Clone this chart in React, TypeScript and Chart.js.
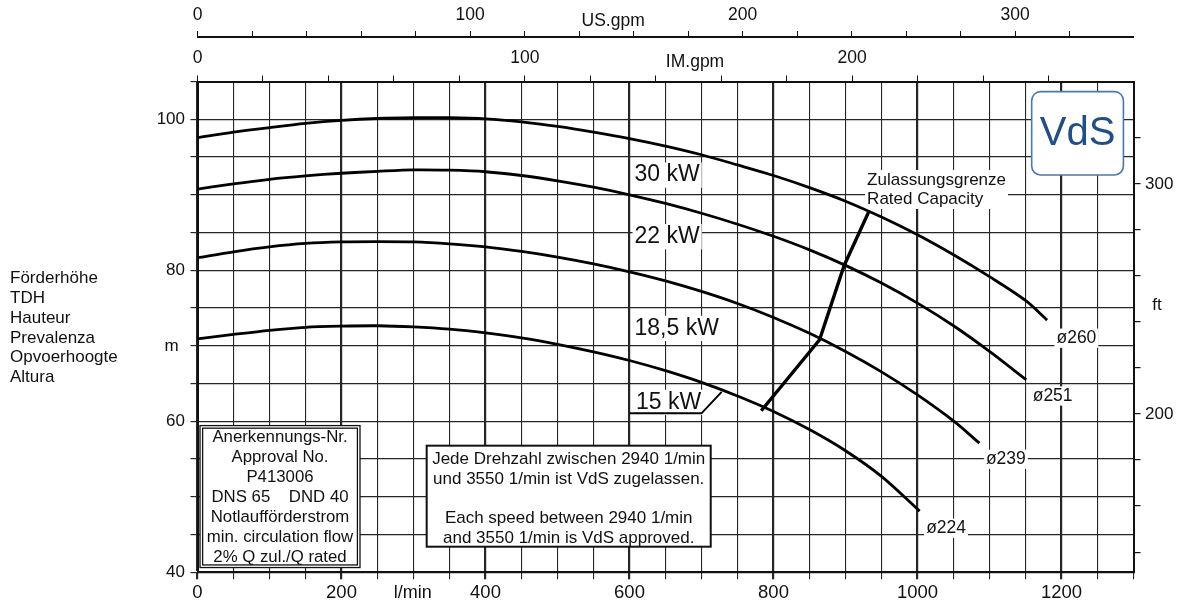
import React, { useEffect, useRef } from 'react';
import { Chart, registerables } from 'chart.js';

Chart.register(...registerables);

// ---- pump curves: flow in l/min, head in m ----
const q260 = [0, 50, 100, 150, 200, 250, 300, 350, 400, 450, 500, 550, 600, 650, 700, 750, 800, 850, 900, 950, 1000, 1050, 1100, 1150, 1180];
const h260 = [97.55, 98.3, 98.9, 99.45, 99.85, 100.1, 100.2, 100.2, 100.05, 99.65, 99.05, 98.3, 97.45, 96.45, 95.3, 93.95, 92.55, 90.95, 89.15, 87.05, 84.7, 82.05, 79.15, 76.0, 73.4];

const q251 = [0, 50, 100, 150, 200, 250, 300, 350, 400, 450, 500, 550, 600, 650, 700, 750, 800, 850, 900, 950, 1000, 1050, 1100, 1151];
const h251 = [90.75, 91.45, 92.05, 92.5, 92.85, 93.1, 93.3, 93.25, 93.05, 92.55, 91.85, 91.0, 90.0, 88.85, 87.55, 86.1, 84.5, 82.7, 80.65, 78.3, 75.65, 72.65, 69.25, 65.5];

const q239 = [0, 50, 100, 150, 200, 250, 300, 350, 400, 450, 500, 550, 600, 650, 700, 750, 800, 850, 900, 950, 1000, 1050, 1086];
const h239 = [81.65, 82.45, 83.1, 83.55, 83.75, 83.8, 83.75, 83.5, 83.1, 82.5, 81.75, 80.85, 79.8, 78.6, 77.2, 75.6, 73.75, 71.65, 69.25, 66.55, 63.5, 60.05, 57.1];

const q224 = [0, 50, 100, 150, 200, 250, 300, 350, 400, 450, 500, 550, 600, 650, 700, 750, 800, 850, 900, 950, 1003];
const h224 = [70.9, 71.5, 72.05, 72.45, 72.6, 72.65, 72.5, 72.2, 71.7, 71.05, 70.2, 69.2, 68.05, 66.7, 65.15, 63.35, 61.3, 58.9, 56.1, 52.7, 48.1];

// rated capacity limit line
const ratedQ = [933, 898, 864, 783];
const ratedH = [87.9, 80.6, 70.8, 61.4];

// leader under the "15 kW" label
const leaderQ = [600, 700, 728];
const leaderH = [61.05, 61.05, 63.9];

// tick labels
const flowTicks = [0, 200, 400, 600, 800, 1000, 1200];
const headTicks = [40, 60, 80, 100];
const ftTicks = [200, 300];
const usTicks = [0, 100, 200, 300];
const imTicks = [0, 100, 200];

// curve annotations
const powerLabels = ['30 kW', '22 kW', '18,5 kW', '15 kW'];
const powerQ = [607, 607, 607, 609];
const powerH = [92.6, 84.45, 72.3, 62.5];

const diaLabels = ['ø260', 'ø251', 'ø239', 'ø224'];
const diaQ = [1193, 1160, 1095, 1012];
const diaH = [71.0, 63.35, 54.97, 45.83];

const ratedText = ['Zulassungsgrenze', 'Rated Capacity'];
const approvalText = ['Anerkennungs-Nr.', 'Approval No.', 'P413006', 'DNS 65    DND 40', 'Notlaufförderstrom', 'min. circulation flow', '2% Q zul./Q rated'];
const speedText = ['Jede Drehzahl zwischen 2940 1/min', 'und 3550 1/min ist VdS zugelassen.', '', 'Each speed between 2940 1/min', 'and 3550 1/min is VdS approved.'];
const headTitle = ['Förderhöhe', 'TDH', 'Hauteur', 'Prevalenza', 'Opvoerhoogte', 'Altura'];

const L_PER_USGPM = 3.78541;
const L_PER_IMGPM = 4.54609;
const M_PER_FT = 0.3048;

const Q_MAX = 1300;
const H_MIN = 40;
const H_MAX = 105;

const FONT = '"Liberation Sans", Arial, Helvetica, sans-serif';
const INK = '#111111';
const GRID = '#262626';
const VDS_BLUE = '#1f4f86';

const pts = (qs: number[], hs: number[]) => qs.map((q, i) => ({ x: q, y: hs[i] }));

const onStep = (v: number, step: number) => Math.abs(v / step - Math.round(v / step)) < 1e-6;

function textWithBg(ctx: CanvasRenderingContext2D, text: string, left: number, cy: number, size: number) {
  ctx.font = `${size}px ${FONT}`;
  const w = ctx.measureText(text).width;
  ctx.fillStyle = '#ffffff';
  ctx.fillRect(left - 2, cy - size * 0.55, w + 4, size * 1.1);
  ctx.fillStyle = INK;
  ctx.textAlign = 'left';
  ctx.textBaseline = 'middle';
  ctx.fillText(text, left, cy);
}

function roundRect(ctx: CanvasRenderingContext2D, x: number, y: number, w: number, h: number, r: number) {
  ctx.beginPath();
  ctx.moveTo(x + r, y);
  ctx.lineTo(x + w - r, y);
  ctx.arcTo(x + w, y, x + w, y + r, r);
  ctx.lineTo(x + w, y + h - r);
  ctx.arcTo(x + w, y + h, x + w - r, y + h, r);
  ctx.lineTo(x + r, y + h);
  ctx.arcTo(x, y + h, x, y + h - r, r);
  ctx.lineTo(x, y + r);
  ctx.arcTo(x, y, x + r, y, r);
  ctx.closePath();
}

const overlay = {
  id: 'pumpOverlay',
  beforeDatasetsDraw(chart: any) {
    const { ctx } = chart;
    const xs = chart.scales.x;
    const ys = chart.scales.y;
    const px = (q: number) => xs.getPixelForValue(q);
    const py = (h: number) => ys.getPixelForValue(h);
    ctx.save();

    // power labels
    powerLabels.forEach((t, i) => textWithBg(ctx, t, px(powerQ[i]), py(powerH[i]), 23));

    // rated capacity caption
    ctx.font = `17px ${FONT}`;
    const rw = Math.max(...ratedText.map((t) => ctx.measureText(t).width));
    const rl = px(930);
    const r0 = py(91.96);
    const r1 = py(89.44);
    ctx.fillStyle = '#ffffff';
    ctx.fillRect(rl - 2, r0 - 10, rw + 4, r1 - r0 + 20);
    ctx.fillStyle = INK;
    ctx.textAlign = 'left';
    ctx.textBaseline = 'middle';
    ctx.fillText(ratedText[0], rl, r0);
    ctx.fillText(ratedText[1], rl, r1);

    // impeller diameters
    diaLabels.forEach((t, i) => textWithBg(ctx, t, px(diaQ[i]), py(diaH[i]), 17.5));

    // approval box (double frame)
    {
      const l = px(3.5), r = px(225.7), t = py(59.43), b = py(40.63);
      ctx.fillStyle = '#ffffff';
      ctx.fillRect(l, t, r - l, b - t);
      ctx.strokeStyle = INK;
      ctx.lineWidth = 1.3;
      ctx.strokeRect(l, t, r - l, b - t);
      ctx.strokeRect(l + 2.6, t + 2.6, r - l - 5.2, b - t - 5.2);
      ctx.fillStyle = INK;
      ctx.font = `16.8px ${FONT}`;
      ctx.textAlign = 'center';
      ctx.textBaseline = 'middle';
      approvalText.forEach((line, i) => ctx.fillText(line, (l + r) / 2, t + 11.5 + i * 20));
    }

    // speed range box
    {
      const l = px(318.3), r = px(712.8), t = py(56.77), b = py(43.39);
      ctx.fillStyle = '#ffffff';
      ctx.fillRect(l, t, r - l, b - t);
      ctx.strokeStyle = INK;
      ctx.lineWidth = 2;
      ctx.strokeRect(l, t, r - l, b - t);
      ctx.fillStyle = INK;
      ctx.font = `17px ${FONT}`;
      ctx.textAlign = 'center';
      ctx.textBaseline = 'middle';
      speedText.forEach((line, i) => ctx.fillText(line, (l + r) / 2, t + 14 + i * 19.6));
    }

    // VdS mark
    {
      const l = px(1158.6), r = px(1286), t = py(103.66), b = py(92.62);
      roundRect(ctx, l, t, r - l, b - t, 9);
      ctx.fillStyle = '#ffffff';
      ctx.fill();
      ctx.strokeStyle = '#4a78a8';
      ctx.lineWidth = 1.6;
      ctx.stroke();
      ctx.fillStyle = VDS_BLUE;
      ctx.font = `40px ${FONT}`;
      ctx.textAlign = 'center';
      ctx.textBaseline = 'middle';
      ctx.fillText('VdS', (l + r) / 2, (t + b) / 2 + 1);
    }
    ctx.restore();
  },
  afterDraw(chart: any) {
    const { ctx, chartArea } = chart;
    const ys = chart.scales.y;
    const us = chart.scales.xUS;
    const im = chart.scales.xIM;
    const xs = chart.scales.x;
    const ft = chart.scales.yFt;
    ctx.save();
    ctx.fillStyle = INK;

    ctx.font = `17.5px ${FONT}`;
    ctx.textAlign = 'center';
    ctx.textBaseline = 'alphabetic';
    ctx.fillText('US.gpm', us.getPixelForValue(152.5), us.bottom - 11.5);
    ctx.fillText('IM.gpm', im.getPixelForValue(152), im.bottom - 15);

    ctx.font = `18px ${FONT}`;
    ctx.fillText('l/min', xs.getPixelForValue(299), chartArea.bottom + 25.5);

    ctx.font = `17px ${FONT}`;
    ctx.textBaseline = 'middle';
    ctx.fillText('m', chartArea.left - 26, ys.getPixelForValue(69.9));
    ctx.fillText('ft', chartArea.right + 23.5, ft.getPixelForValue(247.4));

    ctx.textAlign = 'left';
    const y0 = ys.getPixelForValue(78.9);
    headTitle.forEach((line, i) => ctx.fillText(line, 10, y0 + i * 19.75));
    ctx.restore();
  },
};

export default function App() {
  const ref = useRef<HTMLCanvasElement>(null);

  useEffect(() => {
    const canvas = ref.current;
    if (!canvas) return;

    const curve = (qs: number[], hs: number[], width: number, tension: number) => ({
      data: pts(qs, hs),
      borderColor: '#000000',
      borderWidth: width,
      pointRadius: 0,
      tension,
      fill: false,
      xAxisID: 'x',
      yAxisID: 'y',
    });

    const gridWidth = (c: any) => (c.tick && onStep(c.tick.value, 200) ? 2.2 : 1.1);

    const chart = new Chart(canvas, {
      type: 'line',
      data: {
        datasets: [
          curve(q260, h260, 2.8, 0.3),
          curve(q251, h251, 2.8, 0.3),
          curve(q239, h239, 2.8, 0.3),
          curve(q224, h224, 2.8, 0.3),
          curve(ratedQ, ratedH, 3.4, 0),
          curve(leaderQ, leaderH, 2, 0),
        ] as any,
      },
      options: {
        responsive: false,
        animation: false,
        events: [],
        layout: { padding: 0 },
        plugins: { legend: { display: false }, tooltip: { enabled: false } },
        scales: {
          x: {
            type: 'linear',
            position: 'bottom',
            min: 0,
            max: Q_MAX,
            afterFit: (s: any) => { s.height = 37.7; },
            ticks: {
              stepSize: 50,
              autoSkip: false,
              maxRotation: 0,
              padding: 3,
              color: INK,
              font: { family: FONT, size: 18.5 },
              callback: (v: any) => (flowTicks.includes(Number(v)) ? String(v) : ''),
            },
            grid: { color: GRID, lineWidth: gridWidth, tickLength: 7 },
            border: { display: true, color: INK, width: 2 },
          },
          xIM: {
            type: 'linear',
            position: 'top',
            weight: 1,
            min: 0,
            max: Q_MAX / L_PER_IMGPM,
            afterFit: (s: any) => { s.height = 44.5; },
            afterBuildTicks: (s: any) => { s.ticks = s.ticks.filter((t: any) => onStep(t.value, 20)); },
            ticks: {
              stepSize: 20,
              autoSkip: false,
              maxRotation: 0,
              padding: 7,
              color: INK,
              font: { family: FONT, size: 17.5 },
              callback: (v: any) => (imTicks.includes(Number(v)) ? String(v) : ''),
            },
            grid: { drawOnChartArea: false, color: INK, lineWidth: 1, tickLength: 6 },
            border: { display: true, color: INK, width: 2 },
          },
          xUS: {
            type: 'linear',
            position: 'top',
            weight: 2,
            min: 0,
            max: Q_MAX / L_PER_USGPM,
            afterFit: (s: any) => { s.height = 37; },
            afterBuildTicks: (s: any) => { s.ticks = s.ticks.filter((t: any) => onStep(t.value, 20)); },
            ticks: {
              stepSize: 20,
              autoSkip: false,
              maxRotation: 0,
              padding: 5,
              color: INK,
              font: { family: FONT, size: 17.5 },
              callback: (v: any) => (usTicks.includes(Number(v)) ? String(v) : ''),
            },
            grid: { drawOnChartArea: false, color: INK, lineWidth: 1, tickLength: 6 },
            border: { display: true, color: INK, width: 2 },
          },
          y: {
            type: 'linear',
            position: 'left',
            min: H_MIN,
            max: H_MAX,
            afterFit: (s: any) => { s.width = 197.5; },
            ticks: {
              stepSize: 5,
              autoSkip: false,
              padding: 5.5,
              color: INK,
              font: { family: FONT, size: 17 },
              callback: (v: any) => (headTicks.includes(Number(v)) ? String(v) : ''),
            },
            grid: { color: GRID, lineWidth: 1.2, tickLength: 7 },
            border: { display: true, color: INK, width: 2 },
          },
          yFt: {
            type: 'linear',
            position: 'right',
            min: H_MIN / M_PER_FT,
            max: H_MAX / M_PER_FT,
            afterFit: (s: any) => { s.width = 47.5; },
            afterBuildTicks: (s: any) => { s.ticks = s.ticks.filter((t: any) => onStep(t.value, 20)); },
            ticks: {
              stepSize: 20,
              autoSkip: false,
              padding: 4.5,
              color: INK,
              font: { family: FONT, size: 17 },
              callback: (v: any) => (ftTicks.includes(Number(v)) ? String(v) : ''),
            },
            grid: { drawOnChartArea: false, color: INK, lineWidth: 1.2, tickLength: 7 },
            border: { display: true, color: INK, width: 2 },
          },
        },
      } as any,
      plugins: [overlay],
    });

    return () => chart.destroy();
  }, []);

  return (
    <div style={{ position: 'absolute', left: 0, top: 0, width: 1181, height: 610, background: '#ffffff' }}>
      <canvas ref={ref} width={1181} height={610} style={{ display: 'block' }} />
    </div>
  );
}
